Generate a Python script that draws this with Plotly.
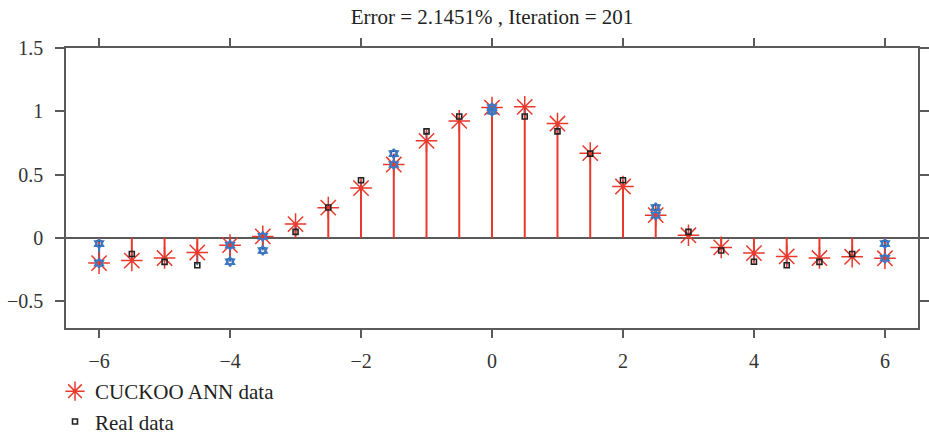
import plotly.graph_objects as go

x_vals = [-6, -5.5, -5, -4.5, -4, -3.5, -3, -2.5, -2, -1.5, -1, -0.5, 0,
          0.5, 1, 1.5, 2, 2.5, 3, 3.5, 4, 4.5, 5, 5.5, 6]
ann_pred = [-0.20, -0.18, -0.16, -0.116, -0.058, 0.011, 0.108, 0.238, 0.393, 0.579, 0.766, 0.924, 1.029,
            1.035, 0.903, 0.669, 0.405, 0.179, 0.02, -0.076, -0.121, -0.147, -0.16, -0.15, -0.162]
real_data = [-0.046, -0.128, -0.19, -0.217, -0.189, -0.100, 0.047, 0.239, 0.455, 0.665, 0.841, 0.959, 1.0,
             0.959, 0.841, 0.665, 0.455, 0.239, 0.047, -0.100, -0.189, -0.217, -0.19, -0.128, -0.046]
flagged_x = [-6, -4, -3.5, -1.5, 0, 2.5, 6]

title_text = "Error = 2.1451% , Iteration = 201"
x_ticks = [-6, -4, -2, 0, 2, 4, 6]
y_ticks = [-0.5, 0, 0.5, 1, 1.5]

RED = "#e8392c"
BLUE = "#3b78c4"
AX = "#5a5a5a"
FONT = "Liberation Serif"

stem_x, stem_y = [], []
err_x, err_y = [], []
for xv, p, r in zip(x_vals, ann_pred, real_data):
    stem_x += [xv, xv, None]
    stem_y += [0, p, None]
    err_x += [xv, xv, None]
    err_y += [p, r, None]

flag_x, flag_y = [], []
for xv, p, r in zip(x_vals, ann_pred, real_data):
    if xv in flagged_x:
        flag_x += [xv, xv]
        flag_y += [p, r]

fig = go.Figure()
fig.add_trace(go.Scatter(x=stem_x, y=stem_y, mode="lines",
                         line=dict(color=RED, width=2), showlegend=False, hoverinfo="skip"))
fig.add_trace(go.Scatter(x=err_x, y=err_y, mode="lines",
                         line=dict(color=BLUE, width=2), showlegend=False, hoverinfo="skip"))
fig.add_trace(go.Scatter(x=x_vals, y=ann_pred, mode="markers", name="CUCKOO ANN data",
                         marker=dict(symbol="asterisk-open", size=18, color=RED,
                                     line=dict(color=RED, width=1.5))))
fig.add_trace(go.Scatter(x=x_vals, y=real_data, mode="markers", name="Real data",
                         marker=dict(symbol="square-open", size=5, color="#222",
                                     line=dict(color="#222", width=1.6))))
fig.add_trace(go.Scatter(x=flag_x, y=flag_y, mode="markers", showlegend=False,
                         marker=dict(symbol="hexagram-open", size=7, color=BLUE,
                                     line=dict(color=BLUE, width=2))))

fig.update_layout(
    width=929, height=436,
    margin=dict(l=66, r=11, t=48, b=108, autoexpand=False),
    paper_bgcolor="white", plot_bgcolor="white",
    font=dict(family=FONT, size=20, color="#333"),
    title=dict(text=title_text, x=0.5, xref="paper", xanchor="center",
               y=1 - 17 / 436, yref="container", yanchor="middle",
               font=dict(family=FONT, size=21, color="#222")),
    showlegend=True,
    legend=dict(xref="container", yref="container", x=55 / 929, y=1 - 371 / 436,
                xanchor="left", yanchor="top", bgcolor="rgba(0,0,0,0)",
                font=dict(family=FONT, size=21, color="#222"), tracegroupgap=0),
)
fig.update_xaxes(range=[-6.505, 6.505], tickvals=x_ticks, showgrid=False, zeroline=False,
                 showline=True, linecolor=AX, linewidth=1.5, mirror="ticks",
                 ticks="outside", ticklen=8, tickwidth=1.5, tickcolor=AX,
                 ticklabelstandoff=6)
fig.update_yaxes(range=[-0.713, 1.5], tickvals=y_ticks, showgrid=False, zeroline=True,
                 zerolinecolor=AX, zerolinewidth=1.5,
                 showline=True, linecolor=AX, linewidth=1.5, mirror="ticks",
                 ticks="outside", ticklen=9, tickwidth=1.5, tickcolor=AX,
                 ticklabelstandoff=8)

fig.write_html("out.html")
